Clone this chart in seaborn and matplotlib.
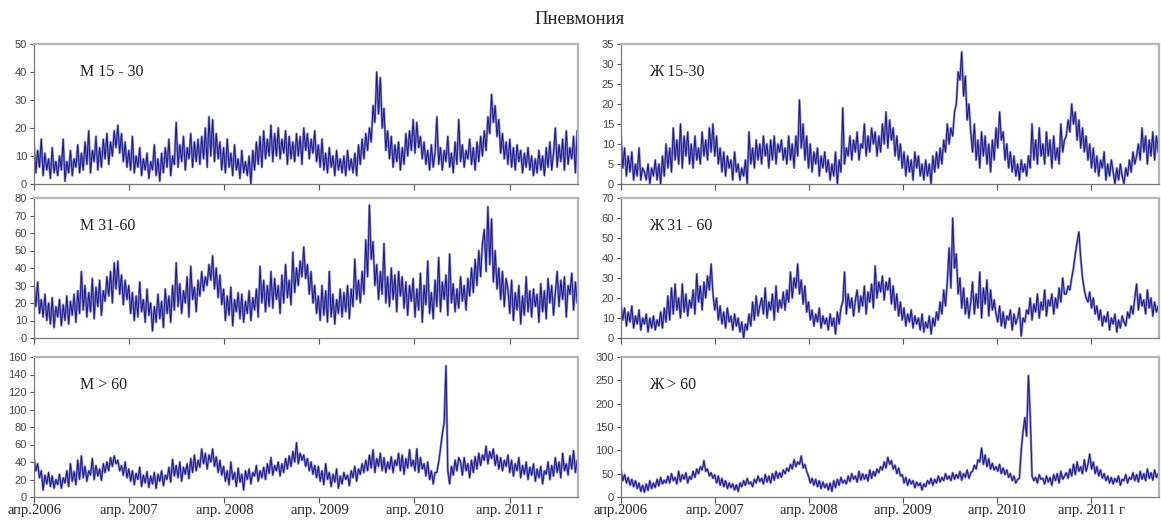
import numpy as np
import pandas as pd
import matplotlib
matplotlib.use("Agg")
import matplotlib.pyplot as plt
import seaborn as sns

sns.set_theme(style="white")
plt.rcParams['font.family'] = ['Liberation Sans', 'DejaVu Sans']

title = "Пневмония"
panel_labels = ["М 15 - 30", "Ж 15-30", "М 31-60", "Ж 31 - 60", "М > 60", "Ж > 60"]
tick_labels = ["апр.2006", "апр. 2007", "апр. 2008", "апр. 2009", "апр. 2010", "апр. 2011 г"]
tick_dates = ["2006-04-01", "2007-04-01", "2008-04-01", "2009-04-01", "2010-04-01", "2011-04-01"]

# weekly readings from 2006-04-01
m_15_30 = [14,4,12,6,16,3,11,5,9,2,13,4,8,
           3,10,5,16,1,8,4,12,3,9,6,14,4,
           11,5,15,7,19,4,12,8,17,5,13,6,16,
           9,18,7,15,10,19,13,21,11,18,8,15,6,
           12,5,17,4,10,6,13,3,9,5,11,2,8,
           5,14,3,9,1,11,4,13,6,16,3,10,7,
           22,6,14,8,17,5,13,9,18,6,15,8,16,
           7,17,9,20,6,24,10,23,8,18,9,15,5,
           13,4,16,6,11,3,14,5,9,2,12,4,8,
           3,10,0,12,5,15,7,17,6,19,9,16,10,
           21,8,18,10,20,9,16,11,19,7,17,9,15,
           8,18,10,17,7,20,12,18,9,16,11,19,8,
           14,6,16,5,11,4,13,6,10,3,12,5,9,
           4,10,3,12,5,9,4,11,3,14,7,16,9,
           18,12,20,15,28,22,40,25,38,20,27,12,19,
           9,17,6,14,8,15,5,13,7,18,10,19,12,
           23,11,22,13,17,9,15,7,12,5,14,6,11,
           24,7,13,5,12,8,17,6,11,4,15,7,23,
           8,14,6,12,9,16,7,13,5,15,8,17,10,
           19,12,24,18,32,22,28,17,23,11,18,9,15,
           7,16,6,13,5,14,8,12,4,11,6,13,5,
           10,3,9,4,12,5,10,3,13,6,15,5,11,
           20,6,14,8,16,5,19,7,13,9,17,4,19]

f_15_30 = [12,4,9,2,7,3,8,1,5,2,9,1,4,
           3,1,5,0,4,2,6,1,5,0,7,2,10,
           4,9,3,14,6,11,5,15,4,12,7,13,5,
           10,4,12,6,9,5,13,7,11,6,14,8,15,
           7,12,5,9,3,8,2,7,4,6,1,8,3,
           5,1,4,2,6,0,13,5,9,4,11,6,10,
           5,12,7,10,4,11,6,12,5,10,8,11,6,
           9,5,12,6,10,4,12,7,21,9,15,6,12,
           4,10,3,8,5,9,2,7,4,8,3,6,1,
           5,2,8,0,6,3,19,5,9,7,12,6,11,
           8,13,6,10,9,15,7,12,8,14,10,13,7,
           12,8,15,10,18,9,16,11,14,7,12,6,10,
           4,8,2,7,3,6,1,8,4,7,2,5,1,
           6,2,5,0,7,3,8,4,9,5,11,8,15,
           10,14,12,18,20,28,26,33,22,27,16,20,13,
           8,15,6,11,4,13,7,12,5,10,3,11,6,
           14,9,18,11,13,6,10,4,8,3,7,2,5,
           1,6,3,5,2,7,4,15,6,11,5,14,7,
           10,5,13,7,11,4,12,6,9,5,15,8,11,
           12,16,13,20,15,18,11,16,9,14,8,12,6,
           10,4,9,3,7,2,6,4,8,1,5,2,6,
           3,0,4,1,5,2,0,4,2,6,3,8,5,
           7,10,6,14,8,12,5,11,7,13,6,12,8]

m_31_60 = [30,18,32,14,22,12,25,10,20,8,23,6,18,
           12,22,7,19,10,24,8,21,13,25,9,27,14,
           38,16,30,12,26,15,34,11,29,18,33,13,27,
           21,35,24,38,20,43,28,44,25,36,19,33,22,
           30,14,26,10,24,12,32,15,22,9,28,13,20,
           4,18,9,25,11,21,6,28,14,24,9,30,16,
           43,18,31,14,27,20,35,12,41,22,29,15,33,
           24,38,27,35,30,42,33,47,28,40,23,36,19,
           28,10,24,13,29,7,22,15,26,11,25,9,21,
           14,27,10,23,16,28,12,41,20,33,15,30,18,
           38,17,34,22,30,14,36,20,42,23,33,19,49,
           26,40,30,44,35,52,34,42,25,38,20,30,14,
           24,10,30,13,27,9,38,12,25,8,22,14,28,
           12,26,15,30,11,28,18,45,22,33,20,38,25,
           56,35,76,45,55,30,42,22,38,25,54,20,35,
           18,40,22,36,15,38,24,35,17,32,13,30,21,
           34,12,28,16,37,9,30,19,44,14,26,11,33,
           18,46,15,32,22,36,13,48,20,31,15,28,17,
           35,21,30,16,34,24,40,26,45,30,50,35,54,
           62,38,75,42,68,32,50,28,40,22,38,18,34,
           28,14,33,10,26,16,30,8,24,13,35,15,27,
           12,28,18,25,9,31,15,27,11,34,20,30,13,
           26,38,18,33,22,35,12,30,25,37,16,32,20]

f_31_60 = [17,9,15,6,13,8,16,5,11,7,14,4,10,
           7,12,3,10,5,11,4,9,6,13,5,15,8,
           21,9,25,12,27,14,20,10,27,13,22,11,19,
           15,24,12,32,18,26,14,28,20,31,24,37,22,
           14,20,9,16,7,13,5,15,8,11,4,12,6,
           10,3,8,0,7,4,12,6,18,9,21,11,16,
           20,12,25,10,18,14,22,9,26,13,19,15,23,
           14,24,18,33,20,30,25,37,22,29,17,26,13,
           18,9,14,6,12,8,15,5,11,7,10,4,12,
           6,10,2,13,7,15,18,33,12,22,15,20,11,
           19,24,13,21,16,26,12,23,18,27,15,36,20,
           28,23,31,19,28,24,30,17,26,14,22,11,18,
           9,15,6,12,8,14,5,11,7,10,4,12,3,
           8,5,11,2,10,6,13,9,18,12,24,16,28,
           45,25,60,35,42,22,30,15,25,12,20,10,18,
           28,12,22,15,33,10,25,17,29,11,24,14,19,
           12,8,16,6,13,5,11,9,14,4,12,7,10,
           15,1,10,8,14,12,20,9,17,13,22,10,18,
           14,24,11,19,16,22,12,20,15,25,18,30,22,
           22,26,24,30,35,42,48,53,40,30,24,20,18,
           23,15,20,12,16,9,14,6,11,8,13,4,10,
           7,12,3,9,5,11,8,6,13,10,16,12,20,
           27,14,22,16,19,12,24,15,20,11,18,13,16]

m_60 = [44,30,38,22,30,8,25,15,28,12,24,10,20,
        14,26,10,22,16,30,12,38,18,29,14,42,20,
        47,22,35,18,30,25,44,20,36,24,32,19,38,
        28,40,30,45,35,47,38,42,30,36,25,40,22,
        32,18,30,14,27,20,34,12,25,16,29,11,24,
        15,28,10,26,18,30,13,25,20,34,17,43,24,
        36,22,40,18,34,26,38,21,44,28,48,30,42,
        34,55,38,50,32,48,40,55,35,46,28,42,25,
        35,18,30,14,40,20,28,12,33,17,26,8,30,
        20,32,15,28,24,36,18,30,22,34,20,38,27,
        45,25,36,30,40,24,38,28,44,32,47,35,52,
        40,62,38,50,42,48,35,44,30,40,26,36,22,
        35,18,30,14,38,20,28,12,26,17,32,10,24,
        15,28,20,25,13,30,22,35,18,32,26,38,28,
        42,30,48,33,54,28,44,35,50,30,45,28,40,
        32,46,28,42,36,50,30,48,26,44,33,54,35,
        42,30,55,28,45,32,38,24,40,20,30,15,28,
        28,40,55,72,85,150,30,15,35,25,42,30,45,
        40,25,45,30,38,22,42,28,46,32,50,36,48,
        42,58,38,52,44,55,36,48,32,45,30,42,35,
        48,28,42,24,38,30,45,22,36,26,40,20,34,
        25,38,18,32,22,35,15,30,26,40,20,36,24,
        45,28,40,22,50,30,38,25,47,32,53,28,42]

f_60 = [58,35,48,30,42,25,38,22,35,18,30,12,25,
        10,28,14,35,18,30,20,38,24,42,28,36,30,
        45,30,50,35,42,28,55,33,48,38,52,30,44,
        38,55,42,60,50,65,58,78,55,60,45,52,40,
        48,30,45,25,40,22,35,18,30,20,28,15,26,
        12,30,22,35,25,40,28,32,22,38,30,45,33,
        40,28,48,32,45,30,50,36,55,40,52,42,58,
        50,62,55,70,60,80,65,75,70,88,62,70,55,
        45,30,40,25,38,22,35,18,32,20,28,15,30,
        12,35,20,38,25,42,30,36,28,45,33,50,38,
        45,32,55,36,50,38,48,34,58,40,55,45,60,
        52,65,58,75,62,85,70,78,60,68,50,62,45,
        48,30,42,25,38,28,35,20,32,24,30,15,28,
        22,35,28,40,25,38,30,45,32,42,35,50,38,
        45,35,52,38,48,40,55,36,50,42,58,40,52,
        55,68,60,80,75,105,70,90,65,82,60,72,58,
        65,55,70,50,62,48,58,42,50,35,45,30,38,
        40,100,140,170,130,260,175,45,35,42,30,48,38,
        40,28,45,32,42,25,48,35,50,30,55,38,45,
        52,40,60,45,70,48,75,55,65,50,80,55,70,
        92,60,75,50,65,45,58,40,50,35,45,30,42,
        28,40,32,45,25,38,35,48,30,42,38,52,35,
        48,32,55,38,50,35,60,40,52,36,58,42,50]

series = [m_15_30, f_15_30, m_31_60, f_31_60, m_60, f_60]
y_max = [50, 35, 80, 70, 160, 300]
y_step = [10, 5, 10, 10, 20, 50]

W, H = 1161, 522
fig = plt.figure(figsize=(W / 100, H / 100), dpi=100)
fig.patch.set_facecolor("white")

col_x = [(34, 578), (621, 1159)]
row_y = [(44, 184), (198, 338), (357, 497)]

for i, vals in enumerate(series):
    r, c = divmod(i, 2)
    x0, x1 = col_x[c]
    y0, y1 = row_y[r]
    ax = fig.add_axes([x0 / W, 1 - y1 / H, (x1 - x0) / W, (y1 - y0) / H])
    df = pd.DataFrame({
        "date": pd.date_range("2006-04-01", periods=len(vals), freq="7D"),
        "value": vals,
    })
    sns.lineplot(data=df, x="date", y="value", ax=ax, color="#8585cc",
                 linewidth=1.7, estimator=None)
    sns.lineplot(data=df, x="date", y="value", ax=ax, color="#1a1a86",
                 linewidth=0.7, estimator=None)
    ax.set_xlim(pd.Timestamp("2006-04-01"), pd.Timestamp("2011-12-20"))
    ax.set_ylim(0, y_max[i])
    ax.set_yticks(np.arange(0, y_max[i] + 1, y_step[i]))
    ax.set_xticks(pd.to_datetime(tick_dates))
    ax.set_xlabel("")
    ax.set_ylabel("")
    ax.tick_params(axis="y", labelsize=8, labelcolor="#444444", length=3,
                   width=0.8, color="#555555", direction="out", left=True, pad=2)
    ax.tick_params(axis="x", length=4, width=0.8, color="#555555",
                   direction="out", bottom=True, pad=1)
    if r == 2:
        ax.set_xticklabels(tick_labels, fontsize=10.5, color="#222222",
                           family=["Liberation Serif", "DejaVu Serif"])
    else:
        ax.set_xticklabels([])
    for side in ["left", "bottom"]:
        ax.spines[side].set_color("#777777")
        ax.spines[side].set_linewidth(0.9)
    for side in ["top", "right"]:
        ax.spines[side].set_color("#b5b5b5")
        ax.spines[side].set_linewidth(1.6)
    lx = 0.085 if c == 0 else 0.053
    ax.text(lx, 0.8, panel_labels[i], transform=ax.transAxes, fontsize=11.5,
            family=["Liberation Serif", "DejaVu Serif"], color="#222222",
            va="center", ha="left")

fig.text(580 / W, 1 - 19 / H, title, ha="center", va="center", fontsize=13.5,
         family=["Liberation Serif", "DejaVu Serif"], color="#222222")

fig.savefig("out.png", dpi=100, facecolor="white")
